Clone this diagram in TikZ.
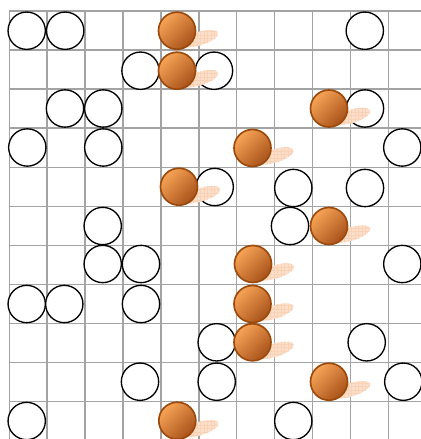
\documentclass[tikz,border=0pt]{standalone}
\usepackage{tikz}
\usetikzlibrary{shapes.geometric, patterns}

\definecolor{gridgray}{HTML}{A3A3A3}
\definecolor{balllight}{HTML}{F7A457}
\definecolor{balldark}{HTML}{A8521A}
\definecolor{ballrim}{HTML}{9C4A0C}
\definecolor{trail}{HTML}{FCDFCA}
\definecolor{trailline}{HTML}{F9D2B6}

\begin{document}
\begin{tikzpicture}[
    x=0.03cm, y=-0.03cm,
    ring/.style={
        draw, circle, fill=white, line width=0.04cm,
        minimum size=1.12cm, inner sep=0pt
    },
    ball/.style={
        circle, draw=ballrim, line width=0.05cm,
        minimum size=1.11cm, inner sep=0pt,
        top color=balllight, bottom color=balldark, shading angle=45
    },
    glow/.style={
        ellipse, minimum width=1.2cm, minimum height=0.4cm, inner sep=0pt,
        rotate=17, fill=trail,
        postaction={pattern=grid, pattern color=trailline}
    },
    gridline/.style={draw=gridgray, line width=0.045cm}
]

%% ---- Frame (image size, in px) ----
\useasboundingbox (0,0) rectangle (421,439);
\clip (0,0) rectangle (421,439);

%% ---- Grid, runs off the right and bottom edges ----
\foreach \k in {0,...,10}{
    \draw[gridline] ({9.3+37.9*\k}, 11) -- ({9.3+37.9*\k}, 445);
    \draw[gridline] (9.3, {11+39.07*\k}) -- (425, {11+39.07*\k});
}

%% ---- Empty rings ----

% row 0
\node[ring] at ( 26.7, 30.7) (r0a) {};
\node[ring] at ( 65.2, 30.7) (r0b) {};
\node[ring] at (364.8, 30.7) (r0c) {};
% row 1
\node[ring] at (140.5, 70.7) (r1a) {};
\node[ring] at (214.0, 70.7) (r1b) {};
% row 2
\node[ring] at ( 65.0,108.5) (r2a) {};
\node[ring] at (103.3,108.5) (r2b) {};
\node[ring] at (365.0,108.5) (r2c) {};
% row 3
\node[ring] at ( 27.3,147.5) (r3a) {};
\node[ring] at (103.3,147.5) (r3b) {};
\node[ring] at (402.3,147.5) (r3c) {};
% row 4
\node[ring] at (214.7,187.0) (r4a) {};
\node[ring] at (293.3,188.0) (r4b) {};
\node[ring] at (365.0,188.0) (r4c) {};
% row 5
\node[ring] at (102.7,226.0) (r5a) {};
\node[ring] at (290.0,226.0) (r5b) {};
% row 6
\node[ring] at (102.7,264.0) (r6a) {};
\node[ring] at (141.0,264.0) (r6b) {};
\node[ring] at (402.3,264.0) (r6c) {};
% row 7
\node[ring] at ( 26.7,304.0) (r7a) {};
\node[ring] at ( 64.3,304.0) (r7b) {};
\node[ring] at (141.0,304.0) (r7c) {};
% row 8
\node[ring] at (216.7,342.3) (r8a) {};
\node[ring] at (366.7,342.3) (r8b) {};
% row 9
\node[ring] at (140.0,381.7) (r9a) {};
\node[ring] at (216.7,381.7) (r9b) {};
\node[ring] at (403.3,381.7) (r9c) {};
% row 10
\node[ring] at ( 26.7,421.0) (r10a) {};
\node[ring] at (293.3,421.0) (r10b) {};

%% ---- Orange balls, each with its faint trail (ball + (22,8)) ----

\node[glow] at (199.0, 38.7) (g1)  {};
\node[ball] at (177.0, 30.7) (b1)  {};

\node[glow] at (199.0, 78.7) (g2)  {};
\node[ball] at (177.0, 70.7) (b2)  {};

\node[glow] at (351.0,116.5) (g3)  {};
\node[ball] at (329.0,108.5) (b3)  {};

\node[glow] at (274.5,156.0) (g4)  {};
\node[ball] at (252.5,148.0) (b4)  {};

\node[glow] at (201.0,194.7) (g5)  {};
\node[ball] at (179.0,186.7) (b5)  {};

\node[glow] at (351.0,234.0) (g6)  {};
\node[ball] at (329.0,226.0) (b6)  {};

\node[glow] at (275.0,272.0) (g7)  {};
\node[ball] at (253.0,264.0) (b7)  {};

\node[glow] at (274.5,312.0) (g8)  {};
\node[ball] at (252.5,304.0) (b8)  {};

\node[glow] at (274.5,350.3) (g9)  {};
\node[ball] at (252.5,342.3) (b9)  {};

\node[glow] at (351.0,389.7) (g10) {};
\node[ball] at (329.0,381.7) (b10) {};

\node[glow] at (199.3,428.7) (g11) {};
\node[ball] at (177.3,420.7) (b11) {};

\end{tikzpicture}
\end{document}
